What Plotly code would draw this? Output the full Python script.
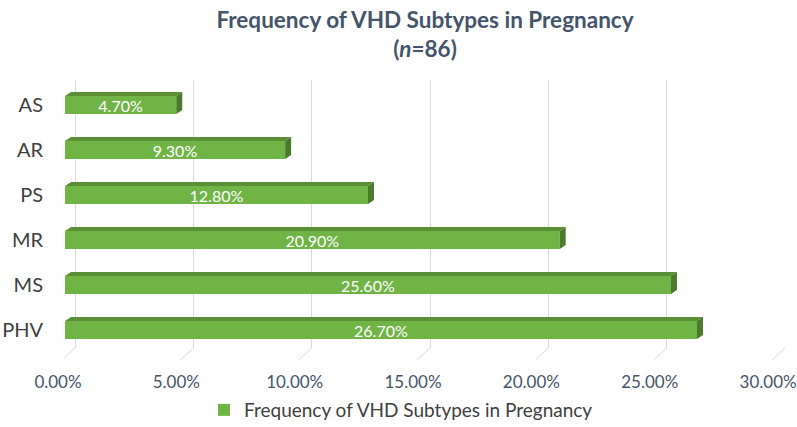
import plotly.graph_objects as go

# data
categories = ["AS", "AR", "PS", "MR", "MS", "PHV"]
freq = [4.7, 9.3, 12.8, 20.9, 25.6, 26.7]
series_name = "Frequency of VHD Subtypes in Pregnancy"
tick_vals = [0, 5, 10, 15, 20, 25, 30]
tick_text = [f"{t:.2f}%" for t in tick_vals]

pos = list(range(len(categories)))

# pixel geometry of the plot area (fake 3D like the Excel original)
W, H = 797, 427
left, right, top, bottom = 64, 786, 80, 348
k = 23.67            # px per percent
front0 = 65          # px of 0% on the front plane
back0 = 75           # px of 0% on the back wall
row = 45             # px per category
first_center = 105   # px of first bar center
bw = 0.4             # bar width (category units)
dx = 6 / k           # depth offset in x (data units)
dy = 4 / row         # depth offset in y (data units)

front_green = "#70b446"
top_green = "#5a8f36"
side_green = "#4b7a2c"
text_col = "#44546A"

fig = go.Figure()

fig.add_trace(go.Bar(
    x=freq, y=pos, orientation="h", width=bw,
    name=series_name,
    marker=dict(color=front_green, line=dict(width=0)),
    texttemplate="%{x:.2f}%", textposition="inside",
    insidetextanchor="middle", textangle=0, constraintext="none",
    textfont=dict(color="white", size=16, family="Lato"),
    hoverinfo="skip",
))

# top and side faces of each bar
shapes = []
for i, v in zip(pos, freq):
    yt = i - bw / 2
    yb = i + bw / 2
    shapes.append(dict(
        type="path", xref="x", yref="y", layer="above",
        path=f"M 0,{yt} L {v},{yt} L {v+dx},{yt-dy} L {dx},{yt-dy} Z",
        fillcolor=top_green, line=dict(width=0),
    ))
    shapes.append(dict(
        type="path", xref="x", yref="y", layer="above",
        path=f"M {v},{yt} L {v+dx},{yt-dy} L {v+dx},{yb-dy} L {v},{yb} Z",
        fillcolor=side_green, line=dict(width=0),
    ))

# slanted floor gridlines
for t in tick_vals:
    shapes.append(dict(
        type="line", xref="x2", yref="paper", layer="above",
        xsizemode="pixel", xanchor=t, x0=0, x1=-13,
        ysizemode="pixel", yanchor=0, y0=0, y1=-12,
        line=dict(color="#d9d9d9", width=1),
    ))

fig.update_layout(
    width=W, height=H,
    margin=dict(l=left, r=W - right, t=top, b=H - bottom),
    plot_bgcolor="rgba(0,0,0,0)", paper_bgcolor="white",
    font=dict(family="Lato", color=text_col),
    title=dict(
        text="<b>Frequency of VHD Subtypes in Pregnancy</b><br><b>(<i>n</i>=86)</b>",
        x=0.5, xref="paper", xanchor="center",
        y=1 - 28 / H, yref="container", yanchor="top",
        font=dict(size=22.5, color=text_col, family="Lato"),
    ),
    xaxis=dict(
        range=[(left - front0) / k, (right - front0) / k],
        tickvals=tick_vals, ticktext=tick_text,
        showgrid=False, zeroline=False, showline=False, ticks="",
        ticklabelshift=-7, ticklabelstandoff=22, automargin=False,
        tickfont=dict(size=17, color=text_col),
    ),
    xaxis2=dict(
        overlaying="x", anchor="y", side="bottom",
        range=[(left - back0) / k, (right - back0) / k],
        tickvals=tick_vals, showticklabels=False, ticks="",
        showgrid=True, gridcolor="#d9d9d9", gridwidth=1,
        zeroline=False, showline=False, automargin=False,
    ),
    yaxis=dict(
        range=[(bottom - first_center) / row, (top - first_center) / row],
        tickvals=pos, ticktext=categories,
        showgrid=False, zeroline=False, showline=False, ticks="",
        ticklabelstandoff=20, automargin=False,
        tickfont=dict(size=20, color="#404040"),
    ),
    showlegend=True,
    legend=dict(
        orientation="h", x=(204 - left) / (right - left), xanchor="left",
        y=1 - 410 / H, yref="container", yanchor="middle",
        font=dict(size=19, color="#404040"),
        itemwidth=30,
    ),
    shapes=shapes,
)

# drop the default page margin so the chart sits at the window's corner
fig.write_html("out.html", config={"displayModeBar": False},
               post_script="document.body.style.margin='0';")
